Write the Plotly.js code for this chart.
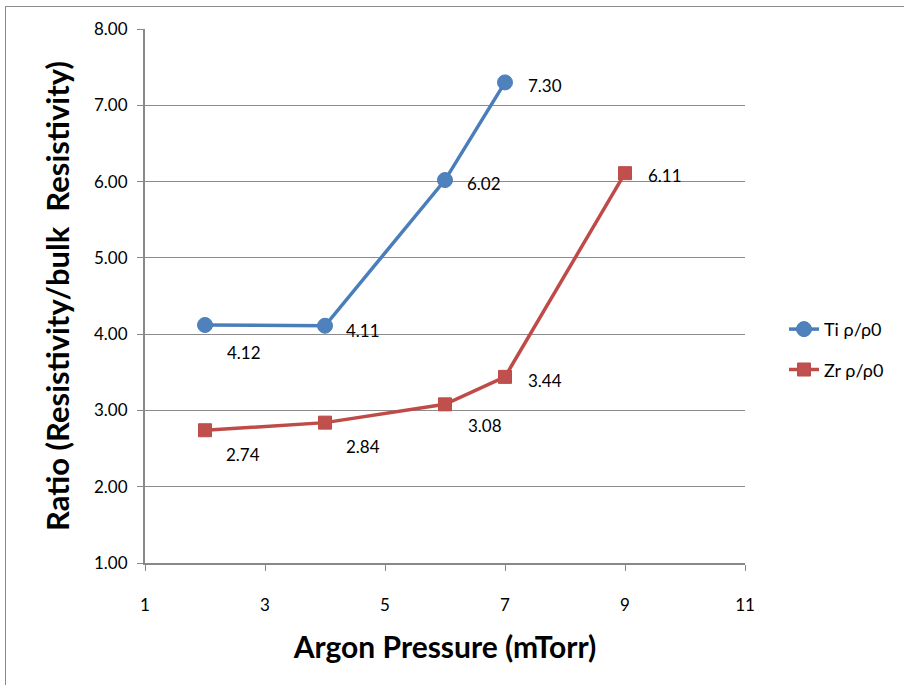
<!DOCTYPE html>
<html>
<head>
<meta charset="utf-8">
<script src="https://cdn.plot.ly/plotly-3.0.1.min.js"></script>
<style>
html,body{margin:0;padding:0;overflow:hidden;background:#fff;}
#chart{width:904px;height:685px;position:absolute;left:0;top:0;}
#frame{position:absolute;left:5px;top:6px;width:1000px;height:1000px;border:1px solid #8c8c8c;pointer-events:none;}
</style>
</head>
<body>
<div id="chart"></div>
<div id="frame"></div>
<script>
const tiPressure = [2, 4, 6, 7];
const tiRatio = [4.12, 4.11, 6.02, 7.30];
const zrPressure = [2, 4, 6, 7, 9];
const zrRatio = [2.74, 2.84, 3.08, 3.44, 6.11];
const tiLabelShift = [[39, -28], [38, -5], [39, -3], [40, -3]];
const zrLabelShift = [[38, -24], [38, -24], [40, -21], [40, -4], [40, -2]];

const FONT = 'Lato, "Open Sans", sans-serif';

const traces = [
  {
    x: tiPressure, y: tiRatio, name: 'Ti ρ/ρ0', type: 'scatter', mode: 'lines+markers',
    legendgroup: 'ti',
    line: {color: '#4A7EBB', width: 3.5},
    marker: {symbol: 'circle', size: 15, color: '#4F81BD', line: {color: '#4A7EBB', width: 1}}
  },
  {
    x: zrPressure, y: zrRatio, name: 'Zr ρ/ρ0', type: 'scatter', mode: 'lines+markers',
    legendgroup: 'zr',
    line: {color: '#BE4B48', width: 3.5},
    marker: {symbol: 'square', size: 13, color: '#C0504D', line: {color: '#BE4B48', width: 1}}
  }
];

const annotations = [];
tiPressure.forEach((x, i) => annotations.push({
  x: x, y: tiRatio[i], xref: 'x', yref: 'y', text: tiRatio[i].toFixed(2), showarrow: false,
  xshift: tiLabelShift[i][0], yshift: tiLabelShift[i][1], font: {family: FONT, size: 17, color: '#000'}
}));
zrPressure.forEach((x, i) => annotations.push({
  x: x, y: zrRatio[i], xref: 'x', yref: 'y', text: zrRatio[i].toFixed(2), showarrow: false,
  xshift: zrLabelShift[i][0], yshift: zrLabelShift[i][1], font: {family: FONT, size: 17, color: '#000'}
}));

const layout = {
  width: 904, height: 685,
  margin: {l: 145, r: 159, t: 29, b: 122},
  paper_bgcolor: '#fff', plot_bgcolor: '#fff',
  font: {family: FONT, size: 17, color: '#000'},
  showlegend: true,
  legend: {x: 1.065, y: 0.40, xanchor: 'left', yanchor: 'middle', font: {family: FONT, size: 18},
           traceorder: 'grouped', tracegroupgap: 14, itemwidth: 30, bgcolor: 'rgba(0,0,0,0)'},
  xaxis: {
    range: [1, 11], tick0: 1, dtick: 2, showgrid: false, zeroline: false,
    showline: true, linecolor: '#888', linewidth: 2,
    ticks: 'outside', ticklen: 6, tickcolor: '#888', tickwidth: 1,
    ticklabelstandoff: 20,
    tickfont: {family: FONT, size: 17},
    title: {text: '<b>Argon Pressure (mTorr)</b>', font: {family: FONT, size: 30}, standoff: 23}
  },
  yaxis: {
    range: [1, 8], tick0: 1, dtick: 1, tickformat: '.2f',
    showgrid: true, gridcolor: '#8c8c8c', gridwidth: 1, zeroline: false,
    showline: true, linecolor: '#888', linewidth: 2,
    ticks: 'outside', ticklen: 6, tickcolor: '#888', tickwidth: 1,
    ticklabelstandoff: 6,
    tickfont: {family: FONT, size: 17},
    title: {text: '<b>Ratio (Resistivity/bulk  Resistivity)</b>', font: {family: FONT, size: 31}, standoff: 15}
  },
  annotations: annotations
};

Plotly.newPlot('chart', traces, layout, {displayModeBar: false, staticPlot: true});
</script>
</body>
</html>
